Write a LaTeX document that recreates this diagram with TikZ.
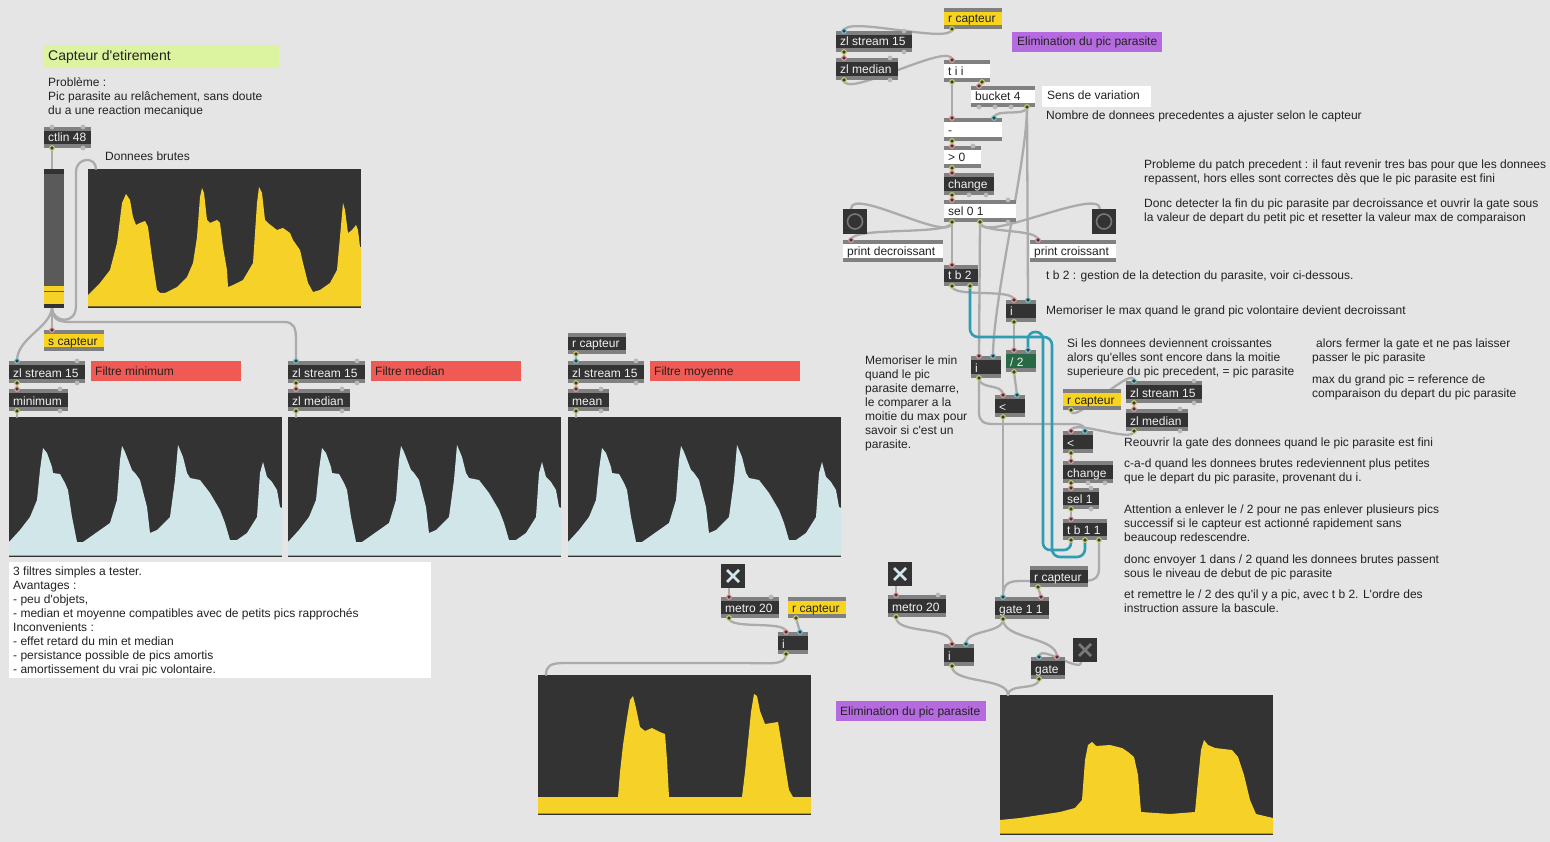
\documentclass[tikz,border=0pt]{standalone}
\usepackage{fontspec}
\setmainfont{Liberation Sans}
\definecolor{bgc}{HTML}{E5E5E5}
\definecolor{stripc}{HTML}{808080}
\definecolor{darkc}{HTML}{333333}
\definecolor{yelc}{HTML}{F8D41F}
\definecolor{plotyel}{HTML}{F6D229}
\definecolor{plotcy}{HTML}{D0E6E8}
\definecolor{redc}{HTML}{F05A55}
\definecolor{purc}{HTML}{B66AE0}
\definecolor{grnc}{HTML}{DCF4A0}
\definecolor{divc}{HTML}{296A46}
\definecolor{wirec}{HTML}{ABABAB}
\definecolor{cyanw}{HTML}{2E9DB1}
\definecolor{txtc}{HTML}{222222}
\definecolor{boxtxt}{HTML}{F2F2F2}
\definecolor{pinc}{HTML}{E89C9C}
\definecolor{pcoldc}{HTML}{72C6D4}
\definecolor{poutc}{HTML}{C8CF6A}
\definecolor{pfill}{HTML}{3A3A3A}
\definecolor{pidlec}{HTML}{B8B8B8}
\definecolor{slidc}{HTML}{5A5A5A}
\definecolor{xc}{HTML}{D2E8EC}
\definecolor{xdim}{HTML}{7A7A7A}
\definecolor{bangc}{HTML}{777777}
\pgfdeclarelayer{bgl}
\pgfdeclarelayer{wl}
\pgfsetlayers{bgl,wl,main}
% Max object box: name, x1, y1, x2, y2, body colour, text colour, text
\newcommand\mx[8]{%
  \fill[stripc] (#2,#3) rectangle (#4,#5);
  \fill[#6] (#2,#3+4) rectangle (#4,#5-4);
  \node[anchor=base west,inner sep=0,text=#7] (#1) at (#2+4,#5-6) {#8};
  \coordinate (#1-i1) at (#2+8,#3);
  \coordinate (#1-i2) at (#4-8,#3);
  \coordinate (#1-o1) at (#2+8,#5);
  \coordinate (#1-o2) at (#4-8,#5);
  \coordinate (#1-om) at ({(#2+#4)/2},#5);
}
% toggle: name x1 y1 x2 y2 colour
\newcommand\tog[6]{%
  \fill[darkc] (#2,#3) rectangle (#4,#5);
  \draw[#6,line width=2.6pt] (#2+6,#3+6) -- (#4-6,#5-6) (#4-6,#3+6) -- (#2+6,#5-6);
  \coordinate (#1) at ({(#2+#4)/2},{(#3+#5)/2});
  \coordinate (#1-o1) at (#2+8,#5);
}
% bang: name x1 y1 x2 y2
\newcommand\bng[5]{%
  \fill[darkc] (#2,#3) rectangle (#4,#5);
  \coordinate (#1) at ({(#2+#4)/2},{(#3+#5)/2});
  \draw[bangc,line width=1.6pt] (#1) circle (7.5);
  \coordinate (#1-i1) at (#2+8,#3);
}
% multi-line comment: name, x, first baseline, {lines}
\newcommand\ml[4]{%
  \foreach \lline [count=\k from 0] in {#4} {\node[txt] (#1-\k) at (#2,#3+14*\k) {\lline};}
}
\begin{document}
\begin{tikzpicture}[x=1pt,y=-1pt,font=\fontsize{12}{14}\selectfont,
  wire/.style={draw=wirec,line width=2.3pt,line cap=round},
  cwire/.style={draw=cyanw,line width=2.6pt,line cap=round},
  txt/.style={anchor=base west,inner sep=0,text=txtc},
  poutl/.style={draw=poutc,fill=pfill,line width=1.1pt},
  pinl/.style={draw=pinc,fill=pfill,line width=1.1pt},
  pcoldl/.style={draw=pcoldc,fill=pfill,line width=1.1pt}]
\useasboundingbox (0,0) rectangle (1550,842);

\begin{pgfonlayer}{bgl}
\fill[bgc] (0,0) rectangle (1550,842);
% raw data plot
\fill[darkc] (88,169) rectangle (361,308);
\fill[plotyel] (88,306.5) -- (88,295) -- (100,283) -- (110,270) -- (117,243) -- (122,203) -- (126,194) -- (130,200) -- (133,217) -- (136,225) -- (140,223) -- (145,221) -- (148,227) -- (152,257) -- (155,277) -- (157,290) -- (160,293) -- (165,293) -- (177,287) -- (187,277) -- (193,263) -- (197,237) -- (200,197) -- (202,188) -- (204,193) -- (207,220) -- (210,223) -- (217,220) -- (220,223) -- (223,247) -- (227,270) -- (228,287) -- (233,285) -- (243,280) -- (253,263) -- (257,203) -- (259,187) -- (262,193) -- (265,220) -- (268,223) -- (277,230) -- (283,228) -- (290,233) -- (293,240) -- (300,250) -- (303,263) -- (308,283) -- (313,292) -- (320,290) -- (330,283) -- (337,270) -- (340,237) -- (343,203) -- (345,210) -- (348,233) -- (352,230) -- (356,225) -- (358,230) -- (360,247) -- (361,247) -- (361,306.5) -- cycle;
\coordinate (plot0-in) at (96,169);
% three filter plots
\foreach \dx in {0,279,559} {
\begin{scope}[xshift=\dx pt]
\fill[darkc] (9,417) rectangle (282,557);
\fill[plotcy] (9,555.5) -- (9,542) -- (20,530) -- (30,517) -- (37,500) -- (40,470) -- (43,448) -- (47,453) -- (52,467) -- (53,473) -- (60,474) -- (65,483) -- (68,490) -- (72,517) -- (77,542) -- (83,542) -- (93,535) -- (110,523) -- (117,500) -- (120,460) -- (122,446) -- (125,452) -- (132,470) -- (135,473) -- (140,480) -- (147,507) -- (150,533) -- (157,530) -- (170,517) -- (175,480) -- (178,445) -- (183,457) -- (187,473) -- (190,478) -- (200,480) -- (210,493) -- (220,510) -- (225,523) -- (230,540) -- (237,540) -- (247,533) -- (257,517) -- (260,473) -- (263,462) -- (267,477) -- (272,482) -- (277,490) -- (280,507) -- (282,508) -- (282,555.5) -- cycle;
\end{scope}}
\coordinate (plot1-in) at (17,417);
\coordinate (plot2-in) at (296,417);
\coordinate (plot3-in) at (576,417);
% bottom middle plot
\fill[darkc] (538,675) rectangle (811,815);
\fill[plotyel] (538,813.5) -- (538,797) -- (618,797) -- (620,772) -- (623,745) -- (627,718) -- (630,700) -- (633,696) -- (636,708) -- (640,727) -- (645,731) -- (652,728) -- (660,732) -- (665,734) -- (667,760) -- (669,797) -- (742,797) -- (745,772) -- (748,742) -- (751,712) -- (754,694) -- (757,696) -- (760,711) -- (765,724) -- (778,722) -- (781,740) -- (785,765) -- (789,790) -- (793,797) -- (811,797) -- (811,813.5) -- cycle;
\coordinate (plot4-in) at (546,675);
% bottom right plot
\fill[darkc] (1000,695) rectangle (1273,835);
\fill[plotyel] (1000,833.5) -- (1000,820) -- (1020,818) -- (1040,815) -- (1060,812) -- (1075,808) -- (1082,800) -- (1085,760) -- (1088,745) -- (1092,742) -- (1096,746) -- (1110,745) -- (1122,748) -- (1128,752) -- (1134,757) -- (1138,775) -- (1141,812) -- (1170,814) -- (1195,812) -- (1198,780) -- (1201,750) -- (1204,740) -- (1208,745) -- (1215,748) -- (1232,750) -- (1238,757) -- (1244,775) -- (1250,800) -- (1256,814) -- (1273,818) -- (1273,833.5) -- cycle;
\coordinate (plot5-in) at (1008,695);
\end{pgfonlayer}

% comments with backgrounds
\fill[grnc] (44,45) rectangle (279,68);
\node[txt,font=\fontsize{14}{16}\selectfont] (title) at (48,61) {Capteur d\textquotesingle etirement};
\fill[redc] (91,361) rectangle (241,381);
\node[txt] (fmin) at (95,375) {Filtre minimum};
\fill[redc] (371,361) rectangle (521,381);
\node[txt] (fmed) at (375,375) {Filtre median};
\fill[redc] (650,361) rectangle (800,381);
\node[txt] (fmoy) at (654,375) {Filtre moyenne};
\fill[purc] (1012,32) rectangle (1162,52);
\node[txt] (elima) at (1017,46) {Elimination du pic parasite};
\fill[purc] (836,701) rectangle (986,721);
\node[txt] (elimb) at (840,715) {Elimination du pic parasite};
\fill[white] (1042,86) rectangle (1151,107);
\node[txt] (sens) at (1047,100) {Sens de variation};
\fill[white] (9,562) rectangle (431,678);
\ml{filt}{13}{575}{{3 filtres simples a tester.},{Avantages :},{- peu d\textquotesingle objets,},{- median et moyenne compatibles avec de petits pics rapprochés},{Inconvenients :},{- effet retard du min et median},{- persistance possible de pics amortis},{- amortissement du vrai pic volontaire.}}

% slider
\fill[darkc] (44,169) rectangle (64,308);
\fill[slidc] (44,174) rectangle (64,286);
\fill[plotyel] (44,286) rectangle (64,304);
\draw[slidc,line width=1pt] (44,292) -- (64,292);
\coordinate (slider-in) at (52,169);
\coordinate (slider-out) at (52,308);

% objects
\mx{ctlin}{44}{127}{91}{148}{darkc}{boxtxt}{ctlin 48}
\mx{scap}{44}{330}{104}{351}{yelc}{txtc}{s capteur}
\mx{zsa}{9}{361}{85}{383}{darkc}{boxtxt}{zl stream 15}
\mx{mini}{9}{389}{68}{411}{darkc}{boxtxt}{minimum}
\mx{zsb}{288}{361}{365}{383}{darkc}{boxtxt}{zl stream 15}
\mx{zmedb}{288}{389}{350}{411}{darkc}{boxtxt}{zl median}
\mx{rcapc}{568}{333}{626}{354}{darkc}{boxtxt}{r capteur}
\mx{zsc}{568}{361}{644}{383}{darkc}{boxtxt}{zl stream 15}
\mx{mean}{568}{389}{609}{411}{darkc}{boxtxt}{mean}

\tog{toga}{721}{564}{745}{588}{xc}
\mx{metroa}{721}{597}{779}{618}{darkc}{boxtxt}{metro 20}
\mx{rcapd}{788}{597}{846}{618}{yelc}{txtc}{r capteur}
\mx{ia}{778}{632}{808}{654}{darkc}{boxtxt}{i}
\tog{togb}{888}{562}{912}{586}{xc}
\mx{metrob}{888}{595}{946}{617}{darkc}{boxtxt}{metro 20}
\mx{gateb}{995}{597}{1049}{619}{darkc}{boxtxt}{gate 1 1}
\mx{rcape}{1030}{566}{1088}{587}{darkc}{boxtxt}{r capteur}
\mx{ib}{944}{644}{974}{666}{darkc}{boxtxt}{i}
\mx{gate}{1031}{657}{1065}{679}{darkc}{boxtxt}{gate}
\tog{togc}{1073}{638}{1097}{662}{xdim}

\mx{rcapa}{944}{8}{1002}{29}{yelc}{txtc}{r capteur}
\mx{zsd}{836}{31}{912}{52}{darkc}{boxtxt}{zl stream 15}
\mx{zmedd}{836}{58}{898}{80}{darkc}{boxtxt}{zl median}
\mx{tii}{944}{60}{990}{82}{white}{txtc}{t i i}
\mx{bucket}{971}{86}{1035}{107}{white}{txtc}{bucket 4}
\mx{minus}{944}{118}{1002}{141}{white}{txtc}{-}
\mx{gtz}{944}{146}{981}{168}{white}{txtc}{> 0}
\mx{changea}{944}{173}{994}{195}{darkc}{boxtxt}{change}
\mx{sel}{944}{200}{1016}{222}{white}{txtc}{sel 0 1}
\bng{banga}{843}{209}{867}{234}
\mx{printd}{843}{240}{943}{262}{white}{txtc}{print decroissant}
\bng{bangb}{1092}{209}{1116}{234}
\mx{printc}{1030}{240}{1116}{262}{white}{txtc}{print croissant}
\mx{tbb}{944}{265}{978}{286}{darkc}{boxtxt}{t b 2}
\mx{imax}{1006}{300}{1036}{322}{darkc}{boxtxt}{i}
\mx{div}{1006}{350}{1036}{372}{divc}{boxtxt}{/ 2}
\mx{imin}{971}{356}{1001}{378}{darkc}{boxtxt}{i}
\mx{lta}{995}{395}{1025}{417}{darkc}{boxtxt}{<}
\mx{rcapb}{1063}{389}{1121}{410}{yelc}{txtc}{r capteur}
\mx{zse}{1126}{381}{1202}{403}{darkc}{boxtxt}{zl stream 15}
\mx{zmede}{1126}{409}{1188}{431}{darkc}{boxtxt}{zl median}
\mx{ltb}{1063}{431}{1093}{453}{darkc}{boxtxt}{<}
\mx{changeb}{1063}{461}{1113}{483}{darkc}{boxtxt}{change}
\mx{selb}{1063}{488}{1099}{509}{darkc}{boxtxt}{sel 1}
\mx{tbc}{1063}{519}{1107}{540}{darkc}{boxtxt}{t b 1 1}

% patch cords
\begin{pgfonlayer}{wl}
\begin{scope}[every path/.style={wire}]
\draw (ctlin-o1) -- (slider-in);
\draw (slider-out) .. controls (52,322) and (76,326) .. (76,306) -- (76,172) .. controls (76,157) and (96,156) .. (plot0-in);
\draw (slider-out) -- (scap-i1);
\draw (slider-out) .. controls (50,328) and (17,338) .. (zsa-i1);
\draw (slider-out) .. controls (53,320) and (58,322) .. (72,322) -- (284,322) .. controls (294,322) and (296,328) .. (296,340) -- (zsb-i1);
\draw (zsa-o1) -- (mini-i1);
\draw (mini-o1) -- (plot1-in);
\draw (zsb-o1) -- (zmedb-i1);
\draw (zmedb-o1) -- (plot2-in);
\draw (rcapc-o1) -- (zsc-i1);
\draw (zsc-o1) -- (mean-i1);
\draw (mean-o1) -- (plot3-in);
% bottom middle
\draw (toga-o1) -- (metroa-i1);
\draw (metroa-o1) .. controls (729,630) and (786,620) .. (ia-i1);
\draw (rcapd-o1) -- (ia-i2);
\draw (ia-o1) .. controls (786,666) and (770,663) .. (740,663) -- (565,663) .. controls (550,663) and (546,666) .. (plot4-in);
% bottom right
\draw (togb-o1) -- (metrob-i1);
\draw (metrob-o1) .. controls (896,635) and (952,625) .. (ib-i1);
\draw (gateb-o1) .. controls (1003,634) and (966,629) .. (ib-i2);
\draw (gateb-o1) .. controls (1003,640) and (1057,636) .. (gate-i2);
\draw (togc-o1) .. controls (1081,674) and (1039,643) .. (gate-i1);
\draw (ib-o1) .. controls (952,684) and (1008,677) .. (plot5-in);
\draw (gate-o1) .. controls (1039,691) and (1008,683) .. (plot5-in);
\draw (rcape-o1) -- (gateb-i2);
\draw (lta-o1) -- (gateb-i1);
\draw (tbc-o2) -- (1099,568) .. controls (1099,580) and (1092,581) .. (1080,581) -- (1020,581) .. controls (1007,581) and (1003,585) .. (gateb-i1);
% top right chain
\draw (rcapa-o1) .. controls (952,45) and (844,15) .. (zsd-i1);
\draw (zsd-o1) -- (zmedd-i1);
\draw (zmedd-o1) .. controls (844,100) and (952,40) .. (tii-i1);
\draw (tii-o1) -- (minus-i1);
\draw (tii-o2) -- (bucket-i1);
\draw (bucket-o2) .. controls (1027,117) and (994,108) .. (minus-i2);
\draw (bucket-o2) -- (imax-i2);
\draw (bucket-o2) .. controls (1027,160) and (993,300) .. (imin-i2);
\draw (minus-o1) -- (gtz-i1);
\draw (gtz-o1) -- (changea-i1);
\draw (changea-o1) -- (sel-i1);
\draw (sel-o1) .. controls (952,245) and (851,186) .. (banga-i1);
\draw (sel-o1) .. controls (952,236) and (851,226) .. (printd-i1);
\draw (sel-o1) -- (tbb-i1);
\draw (sel-om) .. controls (980,245) and (1100,186) .. (bangb-i1);
\draw (sel-om) .. controls (980,234) and (1038,228) .. (printc-i1);
\draw (sel-om) -- (imin-i1);
\draw (tbb-o1) .. controls (952,298) and (1014,288) .. (imax-i1);
\draw (imax-o1) -- (div-i1);
\draw (div-o1) -- (lta-i2);
\draw (imin-o1) .. controls (979,390) and (1003,383) .. (lta-i1);
\draw (imin-o1) -- (979,412) .. controls (979,422) and (984,424) .. (994,424) -- (1075,424) .. controls (1082,424) and (1085,427) .. (ltb-i2);
\draw (zmede-o1) .. controls (1134,444) and (1071,418) .. (ltb-i1);
\draw (rcapb-o1) .. controls (1071,428) and (1134,363) .. (zse-i1);
\draw (zse-o1) -- (zmede-i1);
\draw (ltb-o1) -- (changeb-i1);
\draw (changeb-o1) -- (selb-i1);
\draw (selb-o1) -- (tbc-i1);
\end{scope}
\draw[cwire,rounded corners=8pt] (tbb-o2) -- (970,337) -- (1052,337) -- (1052,557) -- (1085,557) -- (tbc-om);
\draw[cwire,rounded corners=7pt] (tbc-o1) -- (1071,550) -- (1043,550) -- (1043,332) -- (1028,332) -- (div-i2);
\end{pgfonlayer}

% ports
\foreach \c in {ctlin-o1,zsa-o1,mini-o1,zsb-o1,zmedb-o1,rcapc-o1,zsc-o1,mean-o1,metroa-o1,rcapd-o1,ia-o1,metrob-o1,gateb-o1,rcape-o1,ib-o1,gate-o1,rcapa-o1,zsd-o1,zmedd-o1,tii-o1,tii-o2,bucket-o2,minus-o1,gtz-o1,changea-o1,sel-o1,sel-om,tbb-o1,tbb-o2,imax-o1,div-o1,imin-o1,lta-o1,rcapb-o1,zse-o1,zmede-o1,ltb-o1,changeb-o1,selb-o1,tbc-o1,tbc-om,tbc-o2}
  \filldraw[poutl] (\c) circle (2.3);
\foreach \c in {scap-i1,mini-i1,zmedb-i1,mean-i1,metroa-i1,ia-i1,metrob-i1,ib-i1,gate-i2,gateb-i2,tii-i1,bucket-i1,minus-i1,gtz-i1,changea-i1,sel-i1,printd-i1,printc-i1,tbb-i1,imax-i1,div-i1,imin-i1,lta-i1,zmede-i1,ltb-i1,changeb-i1,selb-i1,tbc-i1,zmedd-i1}
  \filldraw[pinl] (\c) circle (2.3);
\foreach \c in {zsa-i1,zsb-i1,zsc-i1,zsd-i1,zse-i1,ia-i2,ib-i2,gate-i1,gateb-i1,minus-i2,imax-i2,div-i2,imin-i2,lta-i2,ltb-i2}
  \filldraw[pcoldl] (\c) circle (2.3);
\foreach \c in {ctlin-i1,ctlin-i2,ctlin-o2,zsa-i2,zsa-o2,mini-i2,mini-o2,zsb-i2,zsb-o2,zmedb-i2,zmedb-o2,zsc-i2,zsc-o2,mean-i2,mean-o2,zsd-i2,zsd-o2,zmedd-i2,zmedd-o2,zse-i2,zse-o2,zmede-i2,zmede-o2,gtz-i2,sel-i2,sel-o2,metroa-i2,metrob-i2,selb-i2,selb-o2,changea-o2,changea-om,changeb-o2,changeb-om,bucket-o1}
  \fill[pidlec] (\c) circle (2.4);
\coordinate (bk2) at (995,107);
\coordinate (bk3) at (1011,107);
\fill[pidlec] (bk2) circle (2.4);
\fill[pidlec] (bk3) circle (2.4);

% comments
\ml{prob}{48}{87}{{Problème :},{Pic parasite au relâchement, sans doute},{du a une reaction mecanique}}
\node[txt] (brutes) at (105,161) {Donnees brutes};
\node[txt] (nombre) at (1046,120) {Nombre de donnees precedentes a ajuster selon le capteur};
\ml{pb}{1144}{169}{{Probleme du patch precedent : il faut revenir tres bas pour que les donnees},{repassent, hors elles sont correctes dès que le pic parasite est fini}}
\ml{donc}{1144}{208}{{Donc detecter la fin du pic parasite par decroissance et ouvrir la gate sous},{la valeur de depart du petit pic et resetter la valeur max de comparaison}}
\node[txt] (tbcom) at (1046,280) {t b 2 : gestion de la detection du parasite, voir ci-dessous.};
\node[txt] (memmax) at (1046,315) {Memoriser le max quand le grand pic volontaire devient decroissant};
\ml{si}{1067}{347}{{Si les donnees deviennent croissantes},{alors qu\textquotesingle elles sont encore dans la moitie},{superieure du pic precedent, = pic parasite}}
\node[txt] (alors) at (1316,347) {alors fermer la gate et ne pas laisser};
\node[txt] (passer) at (1312,361) {passer le pic parasite};
\ml{maxdu}{1312}{383}{{max du grand pic = reference de},{comparaison du depart du pic parasite}}
\ml{memmin}{865}{364}{{Memoriser le min},{quand le pic},{parasite demarre,},{le comparer a la},{moitie du max pour},{savoir si c\textquotesingle est un},{parasite.}}
\node[txt] (reouv) at (1124,446) {Reouvrir la gate des donnees quand le pic parasite est fini};
\ml{cad}{1124}{467.5}{{c-a-d quand les donnees brutes redeviennent plus petites},{que le depart du pic parasite, provenant du i.}}
\ml{att}{1124}{513}{{Attention a enlever le / 2 pour ne pas enlever plusieurs pics},{successif si le capteur est actionné rapidement sans},{beaucoup redescendre.}}
\ml{denv}{1124}{563}{{donc envoyer 1 dans / 2 quand les donnees brutes passent},{sous le niveau de debut de pic parasite}}
\ml{remet}{1124}{598.5}{{et remettre le / 2 des qu\textquotesingle il y a pic, avec t b 2. L\textquotesingle ordre des},{instruction assure la bascule.}}
\end{tikzpicture}
\end{document}
